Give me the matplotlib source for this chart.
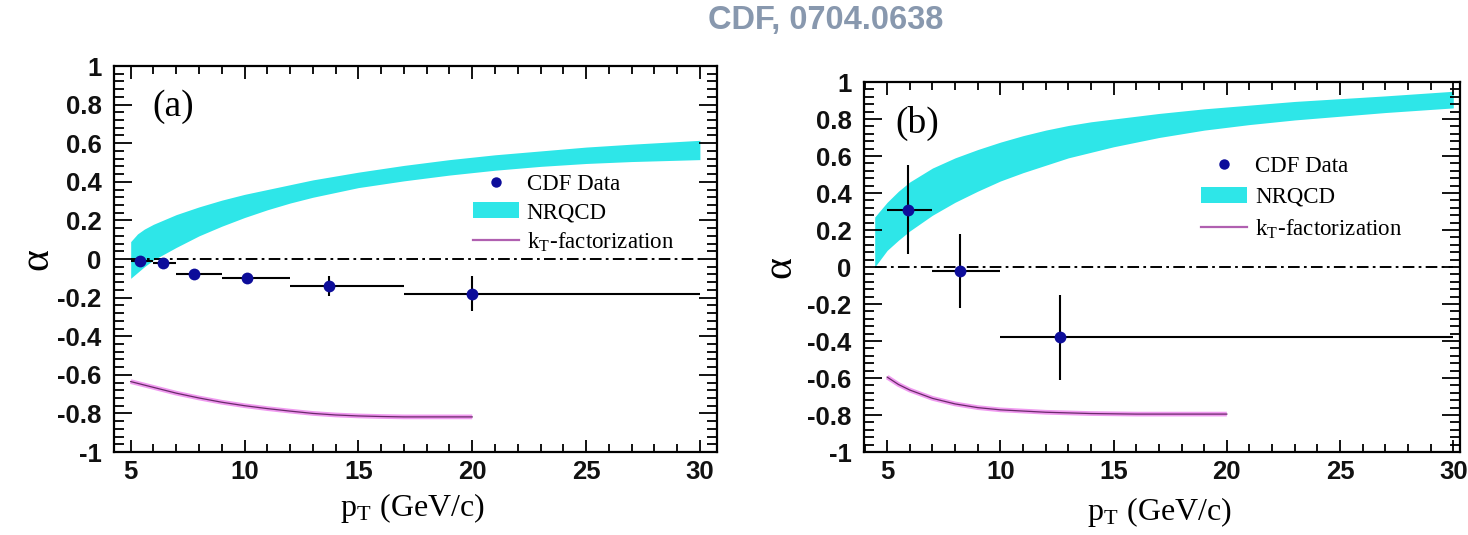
import matplotlib
matplotlib.use('Agg')
import matplotlib.pyplot as plt
from matplotlib.ticker import MultipleLocator, FixedLocator
from matplotlib.lines import Line2D
from matplotlib.patches import Patch

# ---------------- Panel (a) ----------------
a_pt = [5.4, 6.4, 7.8, 10.1, 13.7, 20.0]
a_alpha = [-0.01, -0.02, -0.08, -0.10, -0.14, -0.18]
a_pt_lo = [5, 6, 7, 9, 12, 17]
a_pt_hi = [6, 7, 9, 12, 17, 30]
a_err = [0.02, 0.02, 0.02, 0.025, 0.05, 0.09]

a_nrqcd_pt = [5, 5.3, 5.6, 6, 7, 8, 9, 10, 11, 12, 13, 14, 15, 17, 19, 21, 23, 25, 27, 30]
a_nrqcd_hi = [0.09, 0.13, 0.155, 0.18, 0.23, 0.27, 0.305, 0.335, 0.36, 0.385, 0.41, 0.43,
              0.45, 0.485, 0.515, 0.54, 0.56, 0.58, 0.595, 0.615]
a_nrqcd_lo = [-0.10, -0.07, -0.04, -0.005, 0.06, 0.12, 0.17, 0.215, 0.255, 0.29, 0.32,
              0.345, 0.37, 0.405, 0.435, 0.46, 0.48, 0.495, 0.505, 0.515]

a_kt_pt = [5, 6, 7, 8, 9, 10, 11, 12, 13, 14, 15, 16, 17, 18, 19, 20]
a_kt = [-0.635, -0.665, -0.695, -0.72, -0.742, -0.76, -0.775, -0.788, -0.80, -0.808,
        -0.813, -0.816, -0.818, -0.818, -0.818, -0.818]

# ---------------- Panel (b) ----------------
b_pt = [5.94, 8.2, 12.62]
b_alpha = [0.31, -0.02, -0.38]
b_pt_lo = [5, 7, 10]
b_pt_hi = [7, 10, 30]
b_err = [0.24, 0.20, 0.23]

b_nrqcd_pt = [4.45, 5, 5.5, 6, 7, 8, 9, 10, 11, 12, 13, 14, 15, 17, 19, 21, 23, 25, 27, 30]
b_nrqcd_hi = [0.27, 0.35, 0.41, 0.46, 0.535, 0.59, 0.635, 0.675, 0.71, 0.74, 0.765, 0.785,
              0.80, 0.83, 0.855, 0.875, 0.895, 0.91, 0.925, 0.95]
b_nrqcd_lo = [0.0, 0.09, 0.145, 0.195, 0.28, 0.35, 0.41, 0.465, 0.51, 0.55, 0.59, 0.62,
              0.65, 0.70, 0.74, 0.77, 0.795, 0.815, 0.835, 0.86]

b_kt_pt = [5, 5.5, 6, 7, 8, 9, 10, 12, 14, 16, 18, 20]
b_kt = [-0.595, -0.635, -0.665, -0.71, -0.74, -0.76, -0.772, -0.785, -0.792, -0.795,
        -0.795, -0.795]

x_ticks = [5, 10, 15, 20, 25, 30]
y_ticks = [-1, -0.8, -0.6, -0.4, -0.2, 0, 0.2, 0.4, 0.6, 0.8, 1]
y_ticklabels = ['-1', '-0.8', '-0.6', '-0.4', '-0.2', '0', '0.2', '0.4', '0.6', '0.8', '1']

title = 'CDF, 0704.0638'
legend_labels = ['CDF Data', 'NRQCD', r'k$_\mathregular{T}$-factorization']

CYAN = '#2ee6e8'
BLUE = '#0d0d9a'
PINK = '#f09af0'
PURPLE = '#6a2a6a'

plt.rcParams['mathtext.fontset'] = 'stix'

fig = plt.figure(figsize=(14.68, 5.35), dpi=100)
ax_a = fig.add_axes([0.0777, 0.1551, 0.4107, 0.7215])
ax_b = fig.add_axes([0.5886, 0.1551, 0.4060, 0.6916])

fig.text(0.5627, 0.962, title, ha='center', va='center', fontsize=23.5,
         fontweight='bold', color='#8898ae', family='Liberation Sans')


def draw(ax, pt, alpha, lo, hi, err, npt, nhi, nlo, kpt, kv, zero_x0, xlim,
         tag, tagpos, legpos, legspace, ylab_x, xlab_y):
    ax.fill_between(npt, nlo, nhi, color=CYAN, lw=0, zorder=1)
    ax.plot(kpt, kv, color=PINK, lw=3.4, solid_capstyle='butt', zorder=2)
    ax.plot(kpt, kv, color=PURPLE, lw=0.9, zorder=3)
    ax.plot([zero_x0, 30], [0, 0], color='black', lw=1.4,
            linestyle=(0, (6, 2.2, 1.4, 2.2)), zorder=3)
    xerr = [[p - l for p, l in zip(pt, lo)], [h - p for p, h in zip(pt, hi)]]
    ax.errorbar(pt, alpha, xerr=xerr, yerr=err, fmt='o', color=BLUE, ecolor='black',
                elinewidth=1.5, capsize=4.5, capthick=1.5, markersize=8.5,
                markeredgewidth=0, zorder=5)
    ax.set_xlim(*xlim)
    ax.set_ylim(-1, 1)
    ax.xaxis.set_major_locator(FixedLocator(x_ticks))
    ax.xaxis.set_minor_locator(MultipleLocator(1))
    ax.yaxis.set_major_locator(FixedLocator(y_ticks))
    ax.yaxis.set_minor_locator(MultipleLocator(0.04))
    ax.set_yticklabels(y_ticklabels)
    ax.set_xticklabels([str(t) for t in x_ticks])
    ax.tick_params(axis='both', which='both', direction='in', top=True, right=True,
                   width=1.3, colors='black')
    ax.tick_params(axis='x', which='major', length=9, pad=6)
    ax.tick_params(axis='x', which='minor', length=5.5)
    ax.tick_params(axis='y', which='major', length=13, pad=9)
    ax.tick_params(axis='y', which='minor', length=7.5)
    for lab in ax.get_xticklabels() + ax.get_yticklabels():
        lab.set_fontweight('bold')
        lab.set_fontsize(18.5)
        lab.set_family('Liberation Sans')
        lab.set_color('#111111')
    for s in ax.spines.values():
        s.set_linewidth(1.6)
    ax.text(tagpos[0], tagpos[1], tag, transform=ax.transAxes, fontsize=27,
            family='Liberation Serif', ha='left', va='center')
    ax.set_ylabel('α', fontsize=30, family='Liberation Serif')
    ax.yaxis.set_label_coords(ylab_x, 0.5)
    ax.set_xlabel(r'p$_\mathregular{T}$ (GeV/c)', fontsize=23, family='Liberation Serif')
    ax.xaxis.set_label_coords(0.495, xlab_y)
    handles = [Line2D([], [], marker='o', color=BLUE, linestyle='none', markersize=7.5,
                      markeredgewidth=0),
               Patch(facecolor=CYAN, edgecolor='none'),
               Line2D([], [], color='#b060b0', lw=1.6)]
    leg = ax.legend(handles, legend_labels, loc='upper left', bbox_to_anchor=legpos,
                    frameon=False, prop={'family': 'Liberation Serif', 'size': 16.5},
                    handlelength=2.0, handletextpad=0.35, labelspacing=legspace,
                    borderaxespad=0, borderpad=0)
    return leg


draw(ax_a, a_pt, a_alpha, a_pt_lo, a_pt_hi, a_err, a_nrqcd_pt, a_nrqcd_hi, a_nrqcd_lo,
     a_kt_pt, a_kt, 5, (4.27, 30.75), '(a)', (0.063, 0.894), (0.595, 0.72), 0.3,
     -0.095, -0.10)
draw(ax_b, b_pt, b_alpha, b_pt_lo, b_pt_hi, b_err, b_nrqcd_pt, b_nrqcd_hi, b_nrqcd_lo,
     b_kt_pt, b_kt, 4.45, (3.98, 30.3), '(b)', (0.052, 0.889), (0.566, 0.80), 0.42,
     -0.108, -0.117)

fig.savefig('out.png', dpi=100, facecolor='white')
